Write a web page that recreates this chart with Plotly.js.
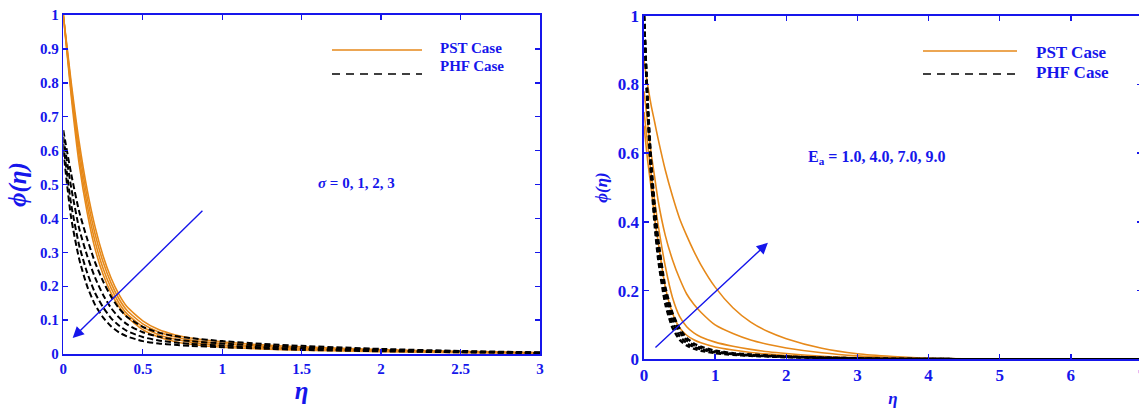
<!DOCTYPE html>
<html>
<head>
<meta charset="utf-8">
<script src="https://cdn.plot.ly/plotly-3.0.1.min.js"></script>
<style>
html, body { margin: 0; padding: 0; overflow: hidden; background: #fff; width: 1139px; height: 408px; }
#chart { width: 1160px; height: 408px; }
</style>
</head>
<body>
<div id="chart"></div>
<script>
// ---------- Data ----------
// Left panel: effect of sigma
const etaLeft = [0, 0.05, 0.1, 0.15, 0.2, 0.25, 0.3, 0.35, 0.4, 0.5, 0.6, 0.7, 0.8, 1.0, 1.25, 1.5, 2.0, 2.5, 3.0];
const sigmaLabels = ["0", "1", "2", "3"];
const pstSigma0 = [1, 0.80, 0.625, 0.485, 0.375, 0.29, 0.225, 0.176, 0.14, 0.098, 0.072, 0.057, 0.047, 0.036, 0.027, 0.021, 0.013, 0.008, 0.004];
const pstSigma1 = [1, 0.787, 0.605, 0.463, 0.354, 0.272, 0.21, 0.163, 0.129, 0.089, 0.065, 0.051, 0.041, 0.031, 0.023, 0.017, 0.011, 0.006, 0.003];
const pstSigma2 = [1, 0.773, 0.583, 0.44, 0.332, 0.253, 0.195, 0.151, 0.119, 0.08, 0.057, 0.044, 0.035, 0.025, 0.019, 0.014, 0.009, 0.005, 0.003];
const pstSigma3 = [1, 0.76, 0.56, 0.418, 0.31, 0.235, 0.18, 0.14, 0.11, 0.072, 0.05, 0.037, 0.029, 0.02, 0.015, 0.011, 0.007, 0.004, 0.002];
const phfSigma0 = [0.66, 0.53, 0.42, 0.34, 0.27, 0.215, 0.17, 0.135, 0.11, 0.08, 0.063, 0.053, 0.047, 0.038, 0.03, 0.024, 0.015, 0.009, 0.005];
const phfSigma1 = [0.64, 0.49, 0.37, 0.29, 0.225, 0.175, 0.136, 0.108, 0.088, 0.064, 0.051, 0.043, 0.038, 0.031, 0.025, 0.019, 0.012, 0.007, 0.004];
const phfSigma2 = [0.62, 0.44, 0.32, 0.24, 0.18, 0.138, 0.106, 0.084, 0.068, 0.05, 0.04, 0.034, 0.03, 0.025, 0.02, 0.015, 0.01, 0.006, 0.003];
const phfSigma3 = [0.60, 0.40, 0.28, 0.2, 0.145, 0.108, 0.082, 0.064, 0.052, 0.038, 0.031, 0.027, 0.024, 0.02, 0.016, 0.012, 0.008, 0.005, 0.003];

// Right panel: effect of activation energy Ea
const etaRight = [0, 0.05, 0.1, 0.15, 0.2, 0.3, 0.4, 0.5, 0.6, 0.7, 0.8, 1.0, 1.25, 1.5, 1.75, 2.0, 2.5, 3.0, 3.5, 4.0, 5.0, 6.0, 7.0];
const eaLabels = ["1.0", "4.0", "7.0", "9.0"];
const pstEa1 = [0.68, 0.58, 0.5, 0.41, 0.34, 0.21, 0.135, 0.092, 0.07, 0.057, 0.048, 0.036, 0.027, 0.02, 0.015, 0.011, 0.006, 0.003, 0.002, 0.001, 0, 0, 0];
const pstEa4 = [0.72, 0.63, 0.54, 0.46, 0.39, 0.27, 0.18, 0.125, 0.095, 0.077, 0.065, 0.05, 0.038, 0.029, 0.022, 0.017, 0.009, 0.005, 0.002, 0.001, 0, 0, 0];
const pstEa7 = [0.78, 0.69, 0.60, 0.53, 0.46, 0.36, 0.29, 0.235, 0.19, 0.16, 0.137, 0.10, 0.075, 0.056, 0.043, 0.033, 0.019, 0.01, 0.005, 0.002, 0.001, 0, 0];
const pstEa9 = [0.87, 0.80, 0.74, 0.69, 0.64, 0.55, 0.475, 0.41, 0.36, 0.315, 0.275, 0.21, 0.15, 0.108, 0.08, 0.06, 0.032, 0.016, 0.008, 0.003, 0.001, 0, 0];
const phfEa1 = [1, 0.73, 0.53, 0.39, 0.29, 0.16, 0.092, 0.057, 0.04, 0.031, 0.025, 0.018, 0.013, 0.01, 0.008, 0.006, 0.004, 0.002, 0.001, 0.001, 0, 0, 0];
const phfEa4 = [1, 0.74, 0.545, 0.41, 0.31, 0.178, 0.107, 0.068, 0.047, 0.036, 0.029, 0.02, 0.015, 0.011, 0.009, 0.007, 0.004, 0.002, 0.001, 0.001, 0, 0, 0];
const phfEa7 = [1, 0.75, 0.565, 0.43, 0.33, 0.195, 0.122, 0.08, 0.055, 0.041, 0.033, 0.023, 0.016, 0.012, 0.01, 0.008, 0.005, 0.003, 0.001, 0.001, 0, 0, 0];
const phfEa9 = [1, 0.76, 0.58, 0.45, 0.35, 0.21, 0.135, 0.09, 0.062, 0.046, 0.037, 0.025, 0.018, 0.014, 0.011, 0.008, 0.005, 0.003, 0.002, 0.001, 0, 0, 0];

// ---------- Styling ----------
const W = 1160, H = 408;
const BLUE = "rgb(22,22,235)";
const ORANGE = "#e6891a";
const FONT = "Liberation Serif, Times New Roman, serif";
const px = x => x / W;
const py = y => 1 - y / H;

const traces = [];
const pstLeft = [pstSigma0, pstSigma1, pstSigma2, pstSigma3];
const phfLeft = [phfSigma0, phfSigma1, phfSigma2, phfSigma3];
pstLeft.forEach((ys, i) => traces.push({
  x: etaLeft, y: ys, xaxis: "x", yaxis: "y", mode: "lines", name: "PST Case, σ = " + sigmaLabels[i],
  line: { color: ORANGE, width: 1.6, shape: "spline", smoothing: 0.6 }, showlegend: false
}));
phfLeft.forEach((ys, i) => traces.push({
  x: etaLeft, y: ys, xaxis: "x", yaxis: "y", mode: "lines", name: "PHF Case, σ = " + sigmaLabels[i],
  line: { color: "black", width: 2, dash: "6px,3px", shape: "spline", smoothing: 0.6 }, showlegend: false
}));
const pstRight = [pstEa1, pstEa4, pstEa7, pstEa9];
const phfRight = [phfEa1, phfEa4, phfEa7, phfEa9];
pstRight.forEach((ys, i) => traces.push({
  x: etaRight, y: ys, xaxis: "x2", yaxis: "y2", mode: "lines", name: "PST Case, Ea = " + eaLabels[i],
  line: { color: ORANGE, width: 1.6, shape: "spline", smoothing: 0.6 }, showlegend: false
}));
phfRight.forEach((ys, i) => traces.push({
  x: etaRight, y: ys, xaxis: "x2", yaxis: "y2", mode: "lines", name: "PHF Case, Ea = " + eaLabels[i],
  line: { color: "black", width: 2.4, dash: "5px,3px", shape: "spline", smoothing: 0.6 }, showlegend: false
}));

function axisBase(extra) {
  return Object.assign({
    showline: true, linecolor: BLUE, linewidth: 1.6, mirror: "ticks",
    ticks: "inside", ticklen: 5, tickwidth: 1.4, tickcolor: BLUE,
    showgrid: false, zeroline: false, automargin: false,
  }, extra);
}

const layout = {
  width: W, height: H,
  margin: { l: 0, r: 0, t: 0, b: 0 },
  paper_bgcolor: "white", plot_bgcolor: "white",
  showlegend: false,
  font: { family: FONT, color: BLUE },
  xaxis: axisBase({
    domain: [px(63.3), px(540)], range: [0, 3], anchor: "y",
    tickmode: "array", tickvals: [0, 0.5, 1, 1.5, 2, 2.5, 3], ticktext: ["0", "0.5", "1", "1.5", "2", "2.5", "3"],
    tickfont: { family: FONT, size: 15, color: BLUE, weight: "bold" },
    title: { text: "η", font: { family: FONT, size: 25, color: BLUE, style: "italic", weight: "bold" }, standoff: 6 }
  }),
  yaxis: axisBase({
    domain: [py(354), py(15)], range: [0, 1], anchor: "x",
    tickmode: "array", tickvals: [0, 0.1, 0.2, 0.3, 0.4, 0.5, 0.6, 0.7, 0.8, 0.9, 1],
    ticktext: ["0", "0.1", "0.2", "0.3", "0.4", "0.5", "0.6", "0.7", "0.8", "0.9", "1"],
    tickfont: { family: FONT, size: 15, color: BLUE, weight: "bold" },
    title: { text: "ϕ(η)", font: { family: FONT, size: 25, color: BLUE, style: "italic", weight: "bold" }, standoff: 6 }
  }),
  xaxis2: axisBase({
    domain: [px(644), px(1142)], range: [0, 7], anchor: "y2",
    tickmode: "array", tickvals: [0, 1, 2, 3, 4, 5, 6, 7], ticktext: ["0", "1", "2", "3", "4", "5", "6", "7"],
    tickfont: { family: FONT, size: 17, color: BLUE, weight: "bold" },
    title: { text: "η", font: { family: FONT, size: 17, color: BLUE, style: "italic", weight: "bold" }, standoff: 9 }
  }),
  yaxis2: axisBase({
    domain: [py(359.3), py(15.7)], range: [0, 1], anchor: "x2",
    tickmode: "array", tickvals: [0, 0.2, 0.4, 0.6, 0.8, 1], ticktext: ["0", "0.2", "0.4", "0.6", "0.8", "1"],
    tickfont: { family: FONT, size: 17, color: BLUE, weight: "bold" },
    title: { text: "ϕ(η)", font: { family: FONT, size: 17, color: BLUE, style: "italic", weight: "bold" }, standoff: 6 }
  }),
  shapes: [
    { type: "line", xref: "paper", yref: "paper", x0: px(332), x1: px(422), y0: py(50), y1: py(50), line: { color: ORANGE, width: 1.6 } },
    { type: "line", xref: "paper", yref: "paper", x0: px(332), x1: px(422), y0: py(74), y1: py(74), line: { color: "black", width: 1.6, dash: "8px,6px" } },
    { type: "line", xref: "paper", yref: "paper", x0: px(923), x1: px(1017), y0: py(51), y1: py(51), line: { color: ORANGE, width: 1.6 } },
    { type: "line", xref: "paper", yref: "paper", x0: px(923), x1: px(1017), y0: py(74), y1: py(74), line: { color: "black", width: 1.6, dash: "8px,6px" } }
  ],
  annotations: [
    { xref: "paper", yref: "paper", x: px(438), y: py(48), xanchor: "left", yanchor: "middle", showarrow: false,
      text: "<b>PST Case</b>", font: { family: FONT, size: 15, color: BLUE } },
    { xref: "paper", yref: "paper", x: px(438), y: py(66), xanchor: "left", yanchor: "middle", showarrow: false,
      text: "<b>PHF Case</b>", font: { family: FONT, size: 15, color: BLUE } },
    { xref: "paper", yref: "paper", x: px(1034), y: py(52), xanchor: "left", yanchor: "middle", showarrow: false,
      text: "<b>PST Case</b>", font: { family: FONT, size: 17, color: BLUE } },
    { xref: "paper", yref: "paper", x: px(1034), y: py(72), xanchor: "left", yanchor: "middle", showarrow: false,
      text: "<b>PHF Case</b>", font: { family: FONT, size: 17, color: BLUE } },
    { xref: "paper", yref: "paper", x: px(316), y: py(183), xanchor: "left", yanchor: "middle", showarrow: false,
      text: "<b><i>σ</i> = 0, 1, 2, 3</b>", font: { family: FONT, size: 15, color: BLUE } },
    { xref: "paper", yref: "paper", x: px(806), y: py(158), xanchor: "left", yanchor: "middle", showarrow: false,
      text: "<b>E<sub>a</sub> = 1.0, 4.0, 7.0, 9.0</b>", font: { family: FONT, size: 16, color: BLUE } },
    // direction arrows
    { xref: "x", yref: "y", axref: "x", ayref: "y", x: 0.059, y: 0.047, ax: 0.885, ay: 0.427,
      showarrow: true, arrowhead: 2, arrowsize: 1.6, arrowwidth: 1.4, arrowcolor: BLUE, text: "" },
    { xref: "x2", yref: "y2", axref: "x2", ayref: "y2", x: 1.742, y: 0.339, ax: 0.14, ay: 0.03,
      showarrow: true, arrowhead: 2, arrowsize: 1.6, arrowwidth: 1.4, arrowcolor: BLUE, text: "" }
  ]
};

Plotly.newPlot("chart", traces, layout, { staticPlot: true, displayModeBar: false });
</script>
</body>
</html>
